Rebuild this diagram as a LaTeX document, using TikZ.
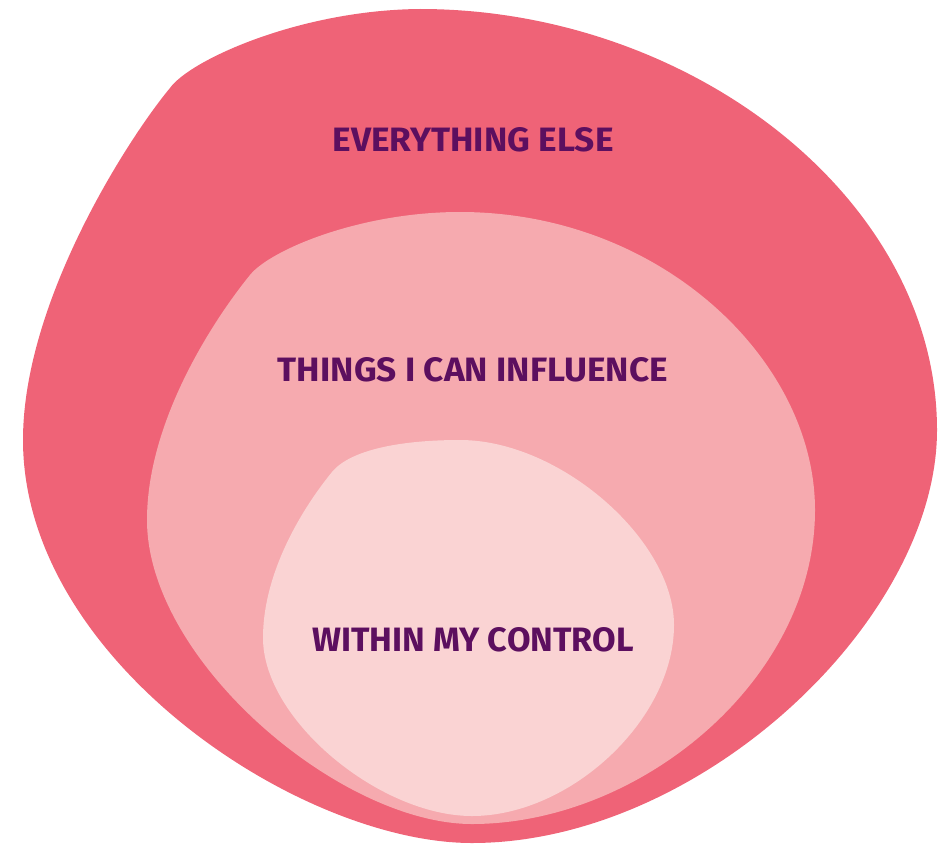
\documentclass[tikz,border=0pt]{standalone}
\usepackage{fontspec}
\setmainfont{Fira Sans}
\usepackage{graphicx}
\definecolor{outerc}{HTML}{EF6377}
\definecolor{midc}{HTML}{F6AAAF}
\definecolor{innerc}{HTML}{FAD3D3}
\definecolor{textc}{HTML}{5C0F5F}
\tikzset{
  lbl/.style={text=textc, inner sep=0pt, font=\bfseries}
}
\begin{document}
\begin{tikzpicture}[x=1pt,y=-1pt]
\useasboundingbox (0,0) rectangle (944,843);
% outer blob
\fill[outerc] (420,9) .. controls (690,9) and (937,198) .. (937,430)
  .. controls (937,620) and (700,843) .. (472,843)
  .. controls (300,843) and (23,660) .. (23,440)
  .. controls (23,300) and (130,136) .. (170,88)
  .. controls (190,60) and (300,10) .. (420,9) -- cycle;
% middle blob
\fill[midc] (460,212) .. controls (660,212) and (815,360) .. (815,510)
  .. controls (815,680) and (640,824) .. (472,824)
  .. controls (340,824) and (147,660) .. (147,520)
  .. controls (147,420) and (215,318) .. (250,275)
  .. controls (270,250) and (360,212) .. (460,212) -- cycle;
% inner blob
\fill[innerc] (460,440) .. controls (560,440) and (674,540) .. (674,625)
  .. controls (674,720) and (570,816) .. (472,816)
  .. controls (380,816) and (263,720) .. (263,638)
  .. controls (263,570) and (305,505) .. (332,472)
  .. controls (350,450) and (400,440) .. (460,440) -- cycle;
\node[lbl] (else) at (473,140) {\resizebox{281pt}{24pt}{EVERYTHING ELSE}};
\node[lbl] (infl) at (473,370) {\resizebox{390pt}{24pt}{THINGS I CAN INFLUENCE}};
\node[lbl] (ctrl) at (473,640) {\resizebox{321pt}{24pt}{WITHIN MY CONTROL}};
\end{tikzpicture}
\end{document}
